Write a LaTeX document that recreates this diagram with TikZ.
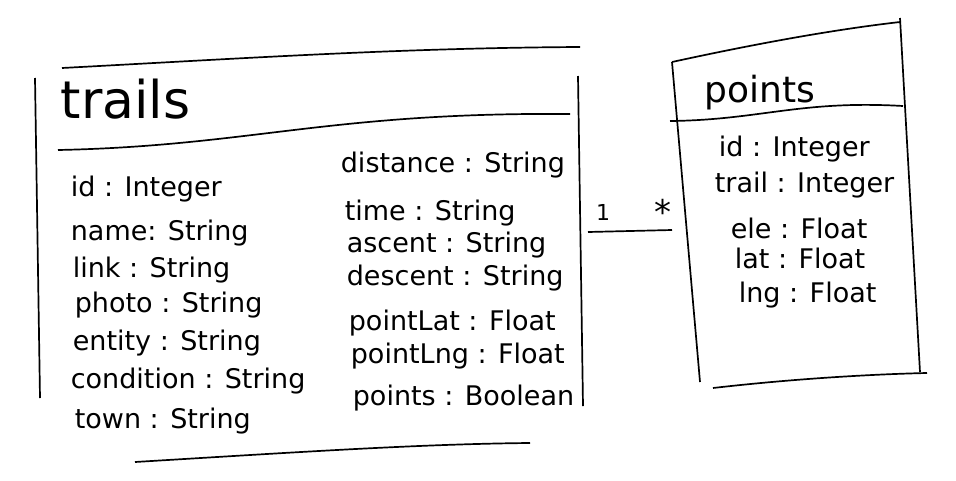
\documentclass[tikz,border=0pt]{standalone}
\usepackage{fontspec}
\setmainfont{DejaVu Sans}
\usetikzlibrary{positioning}

\begin{document}
\begin{tikzpicture}[x=1pt,y=-1pt,line width=1.7pt,
      attr/.style={anchor=base west,inner sep=0pt,font=\fontsize{27}{30}\selectfont},
      title/.style={anchor=base west,inner sep=0pt},
      mult/.style={anchor=base,inner sep=0pt,font=\fontsize{22}{26}\selectfont}]
    \useasboundingbox (0,0) rectangle (956,480);
    % trails class
    \draw (62,68) .. controls (250,58) and (400,48) .. (580,47);
    \draw (35,78) -- (40,398);
    \draw (578,76) -- (583,406);
    \draw (58,150) .. controls (250,146) and (330,112) .. (570,114);
    \draw (135,462) .. controls (300,452) and (420,444) .. (530,443);
    \node[title,font=\fontsize{52}{56}\selectfont] (trTitle) at (60,118) {trails};
    \node[attr] (trId) at (70,196) {id : Integer};
    \node[attr] (trName) at (70,240) {name: String};
    \node[attr] (trLink) at (72,277) {link : String};
    \node[attr] (trPhoto) at (74,312) {photo : String};
    \node[attr] (trEntity) at (72,350) {entity : String};
    \node[attr] (trCond) at (70,388) {condition : String};
    \node[attr] (trTown) at (74,428) {town : String};
    \node[attr] (trDist) at (340,172) {distance : String};
    \node[attr] (trTime) at (344,220) {time : String};
    \node[attr] (trAscent) at (346,252) {ascent : String};
    \node[attr] (trDescent) at (346,285) {descent : String};
    \node[attr] (trPLat) at (348,330) {pointLat : Float};
    \node[attr] (trPLng) at (350,363) {pointLng : Float};
    \node[attr] (trPoints) at (352,405) {points : Boolean};
    % points class
    \draw (672,62) .. controls (750,45) and (830,30) .. (900,22);
    \draw (672,62) -- (700,382);
    \draw (900,18) -- (920,372);
    \draw (670,121) .. controls (760,120) and (800,100) .. (903,106);
    \draw (713,388) .. controls (800,378) and (880,374) .. (927,373);
    \node[title,font=\fontsize{36}{40}\selectfont] (ptTitle) at (704,102) {points};
    \node[attr] (ptId) at (718,156) {id : Integer};
    \node[attr] (ptTrail) at (714,192) {trail : Integer};
    \node[attr] (ptEle) at (730,238) {ele : Float};
    \node[attr] (ptLat) at (734,268) {lat : Float};
    \node[attr] (ptLng) at (738,302) {lng : Float};
    % association
    \coordinate (assocA) at (588,232);
    \coordinate (assocB) at (672,230);
    \draw (assocA) -- (assocB);
    \node[mult] (multOne) at (603,220) {1};
    \node[mult,font=\fontsize{34}{36}\selectfont] (multMany) at (663,224) {*};
  \end{tikzpicture}
\end{document}
